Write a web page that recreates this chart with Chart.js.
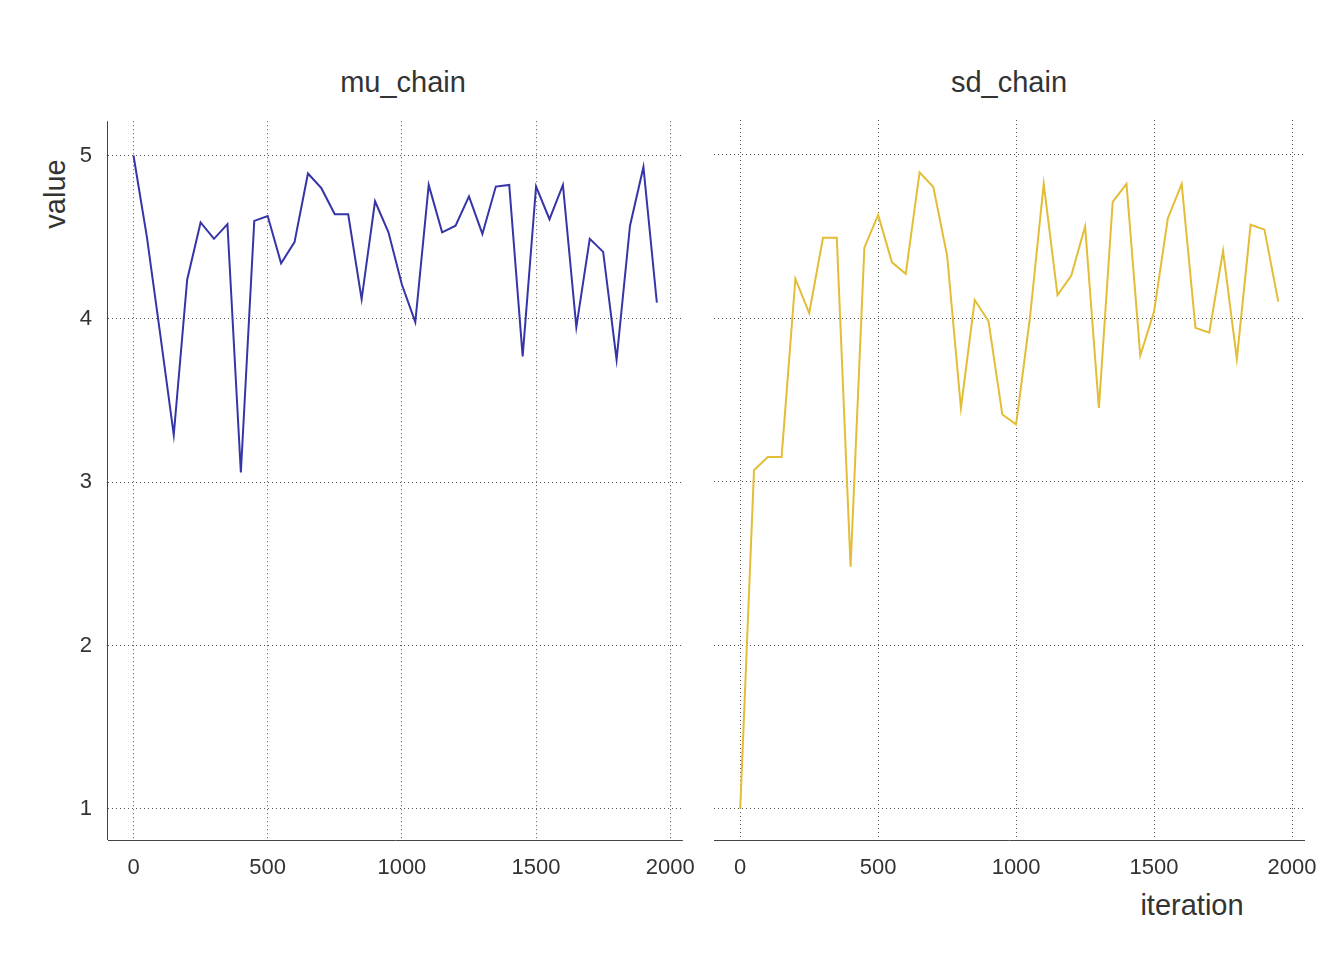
<!DOCTYPE html>
<html>
<head>
<meta charset="utf-8">
<script src="https://cdn.jsdelivr.net/npm/chart.js@4/dist/chart.umd.min.js"></script>
<style>
  body { margin: 0; background: #fff; width: 1344px; height: 960px; position: relative; overflow: hidden;
         font-family: "Liberation Sans", Arial, sans-serif; color: #333; }
  .wrap { position: absolute; }
  .lbl { position: absolute; font-size: 29px; color: #333; }
</style>
</head>
<body>
<div class="lbl" style="left:403px; top:82px; transform:translate(-50%,-50%);">mu_chain</div>
<div class="lbl" style="left:1009px; top:82px; transform:translate(-50%,-50%);">sd_chain</div>
<div class="lbl" style="left:55px; top:194px; transform:translate(-50%,-50%) rotate(-90deg);">value</div>
<div class="lbl" style="left:1192px; top:905px; transform:translate(-50%,-50%);">iteration</div>
<div class="wrap" style="left:0; top:92px; width:710px; height:788px;"><canvas id="c1"></canvas></div>
<div class="wrap" style="left:700px; top:120px; width:644px; height:760px;"><canvas id="c2"></canvas></div>
<script>
// chain values, one point every 50 iterations
const iterations = Array.from({length: 40}, (_, i) => i * 50);
const muChain = [5.0, 4.5, 3.9, 3.29, 4.24, 4.59, 4.49, 4.58, 3.06, 4.60,
                 4.63, 4.34, 4.47, 4.89, 4.80, 4.64, 4.64, 4.12, 4.72, 4.53,
                 4.21, 3.98, 4.82, 4.53, 4.57, 4.75, 4.52, 4.81, 4.82, 3.77,
                 4.81, 4.61, 4.82, 3.95, 4.49, 4.41, 3.75, 4.57, 4.93, 4.10];
const sdChain = [1.0, 3.07, 3.15, 3.15, 4.24, 4.03, 4.49, 4.49, 2.48, 4.43,
                 4.63, 4.34, 4.27, 4.89, 4.80, 4.38, 3.45, 4.11, 3.98, 3.41,
                 3.35, 4.0, 4.82, 4.14, 4.26, 4.56, 3.45, 4.71, 4.82, 3.77,
                 4.04, 4.61, 4.82, 3.94, 3.91, 4.41, 3.75, 4.57, 4.54, 4.10];
const xTicks = [0, 500, 1000, 1500, 2000];
const yTicks = [1, 2, 3, 4, 5];

const tickFont = { family: "Liberation Sans", size: 22 };
const gridStyle = { color: '#555', lineWidth: 1, drawTicks: false, tickLength: 0 };

// solid axis lines drawn on top, since grid dash also affects the border
const axisLines = {
    id: 'axisLines',
    afterDraw: chart => {
        const { ctx, chartArea } = chart;
        ctx.save();
        ctx.setLineDash([]);
        ctx.strokeStyle = '#444';
        ctx.lineWidth = 1;
        ctx.beginPath();
        ctx.moveTo(chartArea.left, chartArea.bottom + 0.5);
        ctx.lineTo(chartArea.right, chartArea.bottom + 0.5);
        if (chart.options.plugins.axisLines.left) {
            ctx.moveTo(chartArea.left - 0.5, chartArea.top);
            ctx.lineTo(chartArea.left - 0.5, chartArea.bottom);
        }
        ctx.stroke();
        ctx.restore();
    }
};

function makeChart(id, values, color, showY) {
    const ctx = document.getElementById(id).getContext('2d');
    return new Chart(ctx, {
        type: 'line',
        data: {
            datasets: [{
                data: iterations.map((x, i) => ({ x: x, y: values[i] })),
                borderColor: color,
                borderWidth: 2,
                pointRadius: 0,
                tension: 0
            }]
        },
        options: {
            responsive: true,
            maintainAspectRatio: false,
            animation: false,
            layout: { padding: { top: 0, right: showY ? 12 : 39, left: 0, bottom: 0 } },
            plugins: { legend: { display: false }, tooltip: { enabled: false }, axisLines: { left: showY } },
            scales: {
                x: {
                    type: 'linear',
                    min: -95, max: 2047,
                    afterBuildTicks: axis => { axis.ticks = xTicks.map(v => ({ value: v })); },
                    afterFit: axis => { axis.height = 40; },
                    ticks: { color: '#333', font: tickFont, padding: 15, maxRotation: 0, callback: v => String(v) },
                    grid: gridStyle,
                    border: { display: false, dash: [1, 3] }
                },
                y: {
                    min: 0.81, max: 5.21,
                    afterBuildTicks: axis => { axis.ticks = yTicks.map(v => ({ value: v })); },
                    afterFit: axis => { axis.width = showY ? 108 : 14; },
                    ticks: { display: showY, color: '#333', font: tickFont, padding: 16 },
                    grid: gridStyle,
                    border: { display: false, dash: [1, 3] }
                }
            }
        },
        plugins: [axisLines]
    });
}

makeChart('c1', muChain, '#3535a8', true);
makeChart('c2', sdChain, '#e3bd35', false);
</script>
</body>
</html>
